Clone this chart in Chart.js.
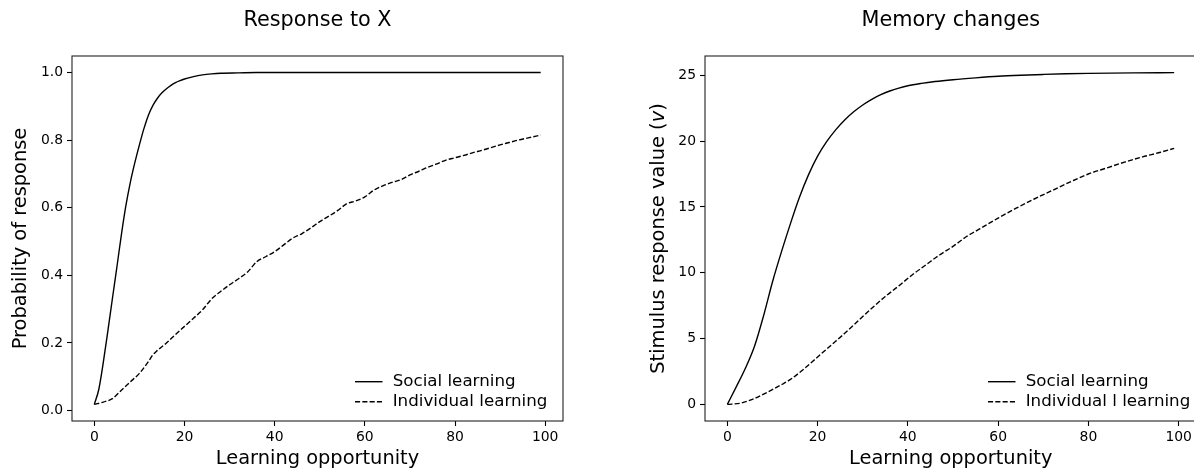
<!DOCTYPE html>
<html>
<head>
<meta charset="utf-8">
<script src="https://cdn.jsdelivr.net/npm/chart.js@4.4.1/dist/chart.umd.min.js"></script>
<style>
  html, body { margin: 0; padding: 0; background: #fff; width: 1194px; height: 471px; overflow: hidden; }
  canvas { position: absolute; top: 0; }
  #grafico-resposta { left: 0; }
  #grafico-memoria { left: 600px; }
</style>
</head>
<body>
<canvas id="grafico-resposta" width="600" height="471"></canvas>
<canvas id="grafico-memoria" width="620" height="471"></canvas>
<script>
// dados
const xTicks = [0, 20, 40, 60, 80, 100];
const yTicksResp = [0, 0.2, 0.4, 0.6, 0.8, 1.0];
const yTicksMem = [0, 5, 10, 15, 20, 25];

// Response to X - social
const xSocialResp = [0, 1, 2, 3, 4, 5, 6, 7, 8, 9, 10, 11, 12, 13, 14, 15, 16, 17, 18, 19, 20, 22, 24, 26, 28, 32, 36, 45, 60, 80, 99];
const ySocialResp = [0.018, 0.063, 0.143, 0.235, 0.33, 0.424, 0.52, 0.606, 0.676, 0.734, 0.786, 0.834, 0.874, 0.903, 0.924, 0.94, 0.952, 0.962, 0.97, 0.976, 0.981, 0.988, 0.993, 0.996, 0.998, 0.999, 1.0, 1.0, 1.0, 1.0, 1.0];
// Response to X - individual
const xIndivResp = [0, 2, 4, 6, 8, 10, 12, 13, 14, 16, 18, 20, 22, 24, 26, 28, 30, 32, 34, 36, 38, 40, 42, 44, 46, 48, 50, 52, 54, 56, 58, 60, 62, 64, 66, 68, 70, 72, 74, 76, 78, 80, 82, 84, 86, 88, 90, 92, 94, 96, 98, 99];
const yIndivResp = [0.018, 0.025, 0.035, 0.06, 0.085, 0.11, 0.145, 0.165, 0.178, 0.2, 0.225, 0.249, 0.273, 0.298, 0.33, 0.352, 0.372, 0.39, 0.41, 0.44, 0.455, 0.47, 0.49, 0.51, 0.523, 0.54, 0.559, 0.575, 0.592, 0.612, 0.62, 0.632, 0.652, 0.665, 0.675, 0.683, 0.697, 0.708, 0.72, 0.73, 0.741, 0.748, 0.755, 0.763, 0.77, 0.778, 0.786, 0.793, 0.8, 0.806, 0.812, 0.815];

// Memory changes - social
const xSocialMem = [0, 2, 4, 6, 8, 10, 12, 14, 16, 18, 20, 22, 24, 26, 28, 30, 32, 34, 36, 38, 40, 43, 46, 50, 55, 60, 65, 70, 75, 80, 90, 99];
const ySocialMem = [0, 1.35, 2.75, 4.4, 6.7, 9.3, 11.6, 13.75, 15.75, 17.45, 18.85, 19.95, 20.85, 21.6, 22.22, 22.74, 23.17, 23.52, 23.8, 24.02, 24.2, 24.38, 24.52, 24.66, 24.8, 24.92, 25.0, 25.06, 25.11, 25.14, 25.18, 25.2];
// Memory changes - individual
const xIndivMem = [0, 3, 6, 9, 12, 14, 17, 20, 23, 26, 29, 32, 35, 38, 41, 44, 47, 50, 53, 56, 60, 64, 68, 72, 76, 80, 84, 88, 92, 96, 99];
const yIndivMem = [0, 0.1, 0.45, 0.95, 1.5, 1.9, 2.7, 3.6, 4.5, 5.4, 6.35, 7.3, 8.2, 9.0, 9.85, 10.6, 11.35, 12.0, 12.75, 13.35, 14.15, 14.9, 15.6, 16.25, 16.9, 17.5, 17.95, 18.4, 18.8, 19.15, 19.45];

const FONT = '"DejaVu Sans", "Liberation Sans", sans-serif';

function pontos(xs, ys) {
    return xs.map((x, i) => ({x: x, y: ys[i]}));
}

// moldura, titulo, rotulo y e legenda no estilo matplotlib
const decor = {
    id: 'decor',
    afterDraw(chart, args, o) {
        const ctx = chart.ctx;
        const a = chart.chartArea;
        ctx.save();
        ctx.strokeStyle = '#222';
        ctx.lineWidth = 1.1;
        ctx.setLineDash([]);
        ctx.strokeRect(a.left, a.top, a.right - a.left, a.bottom - a.top);

        ctx.fillStyle = '#000';
        ctx.textBaseline = 'middle';
        ctx.textAlign = 'center';
        ctx.font = '20.8px ' + FONT;
        ctx.fillText(o.title, (a.left + a.right) / 2, 21);

        // rotulo do eixo y (partes, para o v em italico)
        const fonts = o.yLabel.map(p => (p.italic ? 'italic ' : '') + '19.4px ' + FONT);
        let total = 0;
        const widths = o.yLabel.map((p, i) => { ctx.font = fonts[i]; const w = ctx.measureText(p.text).width; total += w; return w; });
        ctx.translate(o.yLabelX, (a.top + a.bottom) / 2);
        ctx.rotate(-Math.PI / 2);
        ctx.textAlign = 'left';
        let px = -total / 2;
        o.yLabel.forEach((p, i) => { ctx.font = fonts[i]; ctx.fillText(p.text, px, 0); px += widths[i]; });
        ctx.setTransform(1, 0, 0, 1, 0, 0);

        // legenda
        const n = chart.data.datasets.length;
        ctx.font = '16.7px ' + FONT;
        chart.data.datasets.forEach((ds, i) => {
            const y = a.bottom - 19.3 - (n - 1 - i) * 20;
            ctx.strokeStyle = ds.borderColor;
            ctx.lineWidth = ds.borderWidth;
            ctx.setLineDash(ds.borderDash || []);
            ctx.beginPath();
            ctx.moveTo(a.left + 283, y);
            ctx.lineTo(a.left + 310.5, y);
            ctx.stroke();
            ctx.fillText(ds.label, a.left + 320.7, y);
        });
        ctx.restore();
    }
};

function opcoes(cfg) {
    return {
        responsive: false,
        animation: false,
        layout: { padding: { top: 56, right: cfg.padRight, left: 0, bottom: 0 } },
        elements: { point: { radius: 0 } },
        plugins: {
            legend: { display: false },
            tooltip: { enabled: false },
            decor: { title: cfg.title, yLabel: cfg.yLabel, yLabelX: cfg.yLabelX }
        },
        scales: {
            x: {
                type: 'linear',
                min: -4.95,
                max: 103.95,
                afterBuildTicks: s => { s.ticks = xTicks.map(v => ({value: v})); },
                afterFit: s => { s.height = 50; },
                grid: { drawOnChartArea: false, drawTicks: true, tickLength: 5, tickColor: '#000', tickWidth: 1.1 },
                border: { display: false },
                ticks: { color: '#000', padding: 3, maxRotation: 0, font: { family: FONT, size: 13.9 } },
                title: { display: true, text: 'Learning opportunity', color: '#000', padding: { top: 0, bottom: 0 }, font: { family: FONT, size: 19.4 } }
            },
            y: {
                min: cfg.yMin,
                max: cfg.yMax,
                afterBuildTicks: s => { s.ticks = cfg.yTicks.map(v => ({value: v})); },
                afterFit: s => { s.width = cfg.yWidth; },
                grid: { drawOnChartArea: false, drawTicks: true, tickLength: 5, tickColor: '#000', tickWidth: 1.1 },
                border: { display: false },
                ticks: { color: '#000', padding: 4, callback: cfg.yFmt, font: { family: FONT, size: 13.9 } }
            }
        }
    };
}

function series(xsA, ysA, xsB, ysB, labelB) {
    return {
        datasets: [
            {
                label: 'Social learning',
                data: pontos(xsA, ysA),
                borderColor: '#000',
                borderWidth: 1.4,
                cubicInterpolationMode: 'monotone',
                fill: false
            },
            {
                label: labelB,
                data: pontos(xsB, ysB),
                borderColor: '#000',
                borderWidth: 1.4,
                borderDash: [5.1, 2.2],
                cubicInterpolationMode: 'monotone',
                fill: false
            }
        ]
    };
}

// Response to X
new Chart(document.getElementById('grafico-resposta'), {
    type: 'line',
    data: series(xSocialResp, ySocialResp, xIndivResp, yIndivResp, 'Individual learning'),
    options: opcoes({
        title: 'Response to X',
        yLabel: [{text: 'Probability of response'}],
        yLabelX: 21,
        padRight: 37,
        yWidth: 72,
        yMin: -0.031,
        yMax: 1.049,
        yTicks: yTicksResp,
        yFmt: v => v.toFixed(1)
    }),
    plugins: [decor]
});

// Memory changes
new Chart(document.getElementById('grafico-memoria'), {
    type: 'line',
    data: series(xSocialMem, ySocialMem, xIndivMem, yIndivMem, 'Individual l learning'),
    options: opcoes({
        title: 'Memory changes',
        yLabel: [{text: 'Stimulus response value ('}, {text: 'v', italic: true}, {text: ')'}],
        yLabelX: 58.5,
        padRight: 23.5,
        yWidth: 105,
        yMin: -1.26,
        yMax: 26.46,
        yTicks: yTicksMem,
        yFmt: v => String(v)
    }),
    plugins: [decor]
});
</script>
</body>
</html>
